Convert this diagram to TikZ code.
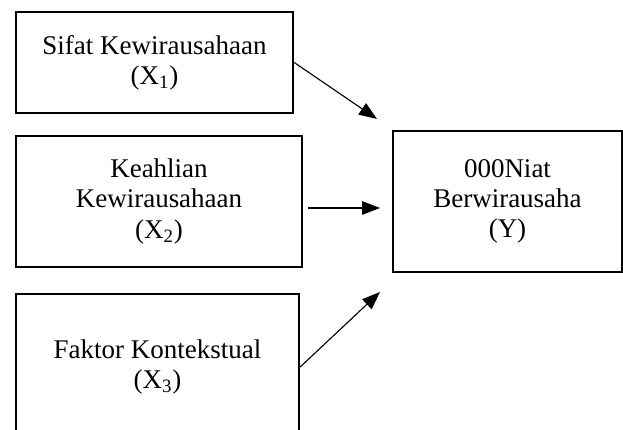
\documentclass[tikz,border=0pt]{standalone}
\usepackage{fontspec}
\setmainfont{Liberation Serif}
\usetikzlibrary{arrows.meta}

\begin{document}
\begin{tikzpicture}[
  x=1cm,
  y=1cm,
  font=\fontsize{19.2}{21.5}\selectfont,
  line/.style={draw=black,line width=1.7pt},
  arrow/.style={draw=black,line width=0.8pt,-{Triangle[length=4.5mm,width=3.4mm]}},
  varbox/.style={line,align=center,inner sep=0pt}
]
\useasboundingbox (0,0) rectangle (15.575,10.75);

% ---------------------------------------------------------------- independent variables
\node[varbox,minimum width=6.925cm,minimum height=2.525cm] (sifat) at (3.8625,9.1875)
  {Sifat Kewirausahaan\\(X\textsubscript{1})};
\node[varbox,minimum width=7.15cm,minimum height=3.275cm] (keahlian) at (3.975,5.7125)
  {Keahlian\\Kewirausahaan\\(X\textsubscript{2})};
\node[varbox,minimum width=7.075cm,minimum height=3.65cm] (faktor) at (3.9375,1.575)
  {Faktor Kontekstual\\(X\textsubscript{3})};

% ---------------------------------------------------------------- dependent variable
\node[varbox,minimum width=5.725cm,minimum height=3.525cm] (niat) at (12.6875,5.7125)
  {000Niat\\Berwirausaha\\(Y)};

% ---------------------------------------------------------------- arrows (tips stop short of Y)
\coordinate (tipa) at (9.425,7.775);
\coordinate (tipb) at (9.50,5.55);
\coordinate (tipc) at (9.50,3.45);
\coordinate (startb) at (7.70,5.55);

\draw[arrow] (sifat.east) -- (tipa);
\draw[arrow] (startb) -- (tipb);
\draw[arrow] (faktor.east) -- (tipc);

\end{tikzpicture}
\end{document}
